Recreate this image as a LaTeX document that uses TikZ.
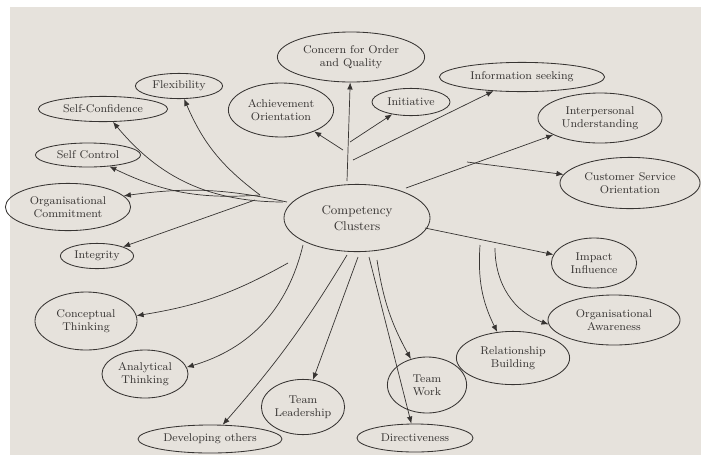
\documentclass[tikz,border=0pt]{standalone}
\usepackage{tikz}
\usetikzlibrary{shapes.geometric, arrows.meta}
\definecolor{paper}{RGB}{230,226,220}
\definecolor{ink}{RGB}{55,52,50}

\begin{document}
\begin{tikzpicture}[x=0.025cm, y=-0.025cm,
		comp/.style={draw=ink, ellipse, inner sep=0pt, align=center, font=\footnotesize, text=ink, line width=0.6pt},
		link/.style={draw=ink, line width=0.5pt, -{Latex[length=5pt, width=4pt]}}]
		% Draw the paper
		\fill[white] (0,0) rectangle (701,455);
		\fill[paper] (10,7) rectangle (701,455);
		\useasboundingbox (0,0) rectangle (701,455);
		
		% Draw the centre
		\node (clusters) [comp, font=\small, minimum width=3.65cm, minimum height=1.68cm] at (357,218) {Competency\\Clusters};
		
		% Draw the upper clusters
		\node (concern) [comp, minimum width=3.68cm, minimum height=1.25cm] at (351,57) {Concern for Order\\and Quality};
		\node (flex) [comp, minimum width=2.18cm, minimum height=0.63cm] at (179,86) {Flexibility};
		\node (selfconf) [comp, minimum width=3.23cm, minimum height=0.63cm] at (103,109) {Self-Confidence};
		\node (achieve) [comp, minimum width=2.63cm, minimum height=1.35cm] at (281,110) {Achievement\\Orientation};
		\node (initiative) [comp, minimum width=1.95cm, minimum height=0.68cm] at (411,102) {Initiative};
		\node (infoseek) [comp, minimum width=4.13cm, minimum height=0.73cm] at (522,77) {Information seeking};
		\node (interpers) [comp, minimum width=3.1cm, minimum height=1.25cm] at (600,118) {Interpersonal\\Understanding};
		\node (customer) [comp, minimum width=3.5cm, minimum height=1.28cm] at (630,183) {Customer Service\\Orientation};
		
		% Draw the left clusters
		\node (selfctrl) [comp, minimum width=2.63cm, minimum height=0.6cm] at (88,155) {Self Control};
		\node (orgcommit) [comp, minimum width=3.13cm, minimum height=1.18cm] at (68,207) {Organisational\\Commitment};
		\node (integrity) [comp, minimum width=1.83cm, minimum height=0.63cm] at (97,256) {Integrity};
		\node (concept) [comp, minimum width=2.55cm, minimum height=1.45cm] at (86,321) {Conceptual\\Thinking};
		\node (analytic) [comp, minimum width=2.15cm, minimum height=1.2cm] at (145,374) {Analytical\\Thinking};
		
		% Draw the lower clusters
		\node (develop) [comp, minimum width=3.6cm, minimum height=0.7cm] at (210,439) {Developing others};
		\node (teamlead) [comp, minimum width=2.08cm, minimum height=1.38cm] at (303,407) {Team\\Leadership};
		\node (direct) [comp, minimum width=2.9cm, minimum height=0.7cm] at (415,438) {Directiveness};
		\node (teamwork) [comp, minimum width=1.98cm, minimum height=1.4cm] at (427,385) {Team\\Work};
		\node (relation) [comp, minimum width=2.83cm, minimum height=1.33cm] at (513,358) {Relationship\\Building};
		\node (orgaware) [comp, minimum width=3.3cm, minimum height=1.25cm] at (614,320) {Organisational\\Awareness};
		\node (impact) [comp, minimum width=2.13cm, minimum height=1.25cm] at (594,263) {Impact\\Influence};
		
		% Start points of the arrows
		\coordinate (s-concern) at (347,181);
		\coordinate (s-achieve) at (343,150);
		\coordinate (s-initiative) at (350,142);
		\coordinate (s-infoseek) at (353,160);
		\coordinate (s-interpers) at (406,188);
		\coordinate (s-customer) at (467,162);
		\coordinate (s-impact) at (425,228);
		\coordinate (s-orgaware) at (495,248);
		\coordinate (s-relation) at (480,245);
		\coordinate (s-teamwork) at (377,260);
		\coordinate (s-direct) at (369,257);
		\coordinate (s-teamlead) at (358,257);
		\coordinate (s-develop) at (347,255);
		\coordinate (s-analytic) at (303,245);
		\coordinate (s-concept) at (288,263);
		\coordinate (s-integrity) at (255,200);
		\coordinate (s-orgcommit) at (287,202);
		\coordinate (s-selfctrl) at (260,195);
		\coordinate (s-selfconf) at (283,202);
		\coordinate (s-flex) at (260,195);
		
		% Connect the clusters with arrows
		\draw[link] (s-concern) -- (concern);
		\draw[link] (s-achieve) -- (achieve);
		\draw[link] (s-initiative) -- (initiative);
		\draw[link] (s-infoseek) -- (infoseek);
		\draw[link] (s-interpers) -- (interpers);
		\draw[link] (s-customer) -- (customer);
		\draw[link] (s-impact) -- (impact);
		\draw[link] (s-orgaware) to[bend right=35] (orgaware);
		\draw[link] (s-relation) to[bend right=15] (relation);
		\draw[link] (s-teamwork) to[bend right=10] (teamwork);
		\draw[link] (s-direct) -- (direct);
		\draw[link] (s-teamlead) -- (teamlead);
		\draw[link] (s-develop) to[bend left=5] (develop);
		\draw[link] (s-analytic) to[bend left=30] (analytic);
		\draw[link] (s-concept) to[bend left=10] (concept);
		\draw[link] (s-integrity) -- (integrity);
		\draw[link] (s-orgcommit) to[bend right=10] (orgcommit);
		\draw[link] (s-selfctrl) to[bend left=15] (selfctrl);
		\draw[link] (s-selfconf) to[bend left=25] (selfconf);
		\draw[link] (s-flex) to[bend left=15] (flex);
\end{tikzpicture}
\end{document}
